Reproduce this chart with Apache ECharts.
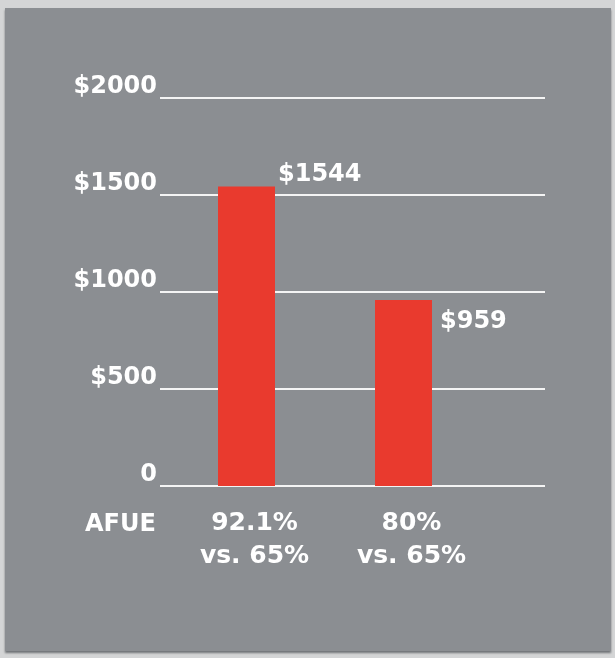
<!DOCTYPE html>
<html>
<head>
<meta charset="utf-8">
<script src="https://cdn.jsdelivr.net/npm/echarts@6/dist/echarts.min.js"></script>
<style>
  html, body { margin: 0; padding: 0; background: #d4d5d6; }
  #frame { position: absolute; left: 5px; top: 8px; width: 606px; height: 643px;
           background: #8b8e92; box-shadow: 0 2px 2px #707376; }
  #chart { width: 606px; height: 643px; }
</style>
</head>
<body>
<div id="frame"><div id="chart"></div></div>
<script>
// valores del grafico
var categorias = ['92.1%\nvs. 65%', '80%\nvs. 65%'];
var ahorros = [1544, 959];
var ticksY = [0, 500, 1000, 1500, 2000];

var chart = echarts.init(document.getElementById('chart'));
var fuente = 'DejaVu Sans';
// posicion de cada etiqueta respecto a su barra
var posEtiqueta = [[60, -24], [65, 10]];

var option = {
    animation: false,
    grid: [
        // rejilla para las lineas blancas
        { left: 155, top: 90, width: 385, height: 388 },
        // rejilla para las barras
        { left: 163, top: 90, width: 314, height: 388 }
    ],
    xAxis: [
        { gridIndex: 0, type: 'category', data: categorias, show: false },
        {
            gridIndex: 1, type: 'category', data: categorias,
            axisLine: { show: false }, axisTick: { show: false },
            axisLabel: {
                color: '#fff', fontFamily: fuente, fontWeight: 'bold', fontSize: 25,
                lineHeight: 33, margin: 21, padding: [0, 0, 0, 16]
            }
        }
    ],
    yAxis: [
        {
            gridIndex: 0, type: 'value', min: ticksY[0], max: ticksY[ticksY.length - 1], interval: 500,
            axisLine: { show: false }, axisTick: { show: false },
            splitLine: { lineStyle: { color: '#f4f4f4', width: 2 } },
            axisLabel: {
                color: '#fff', fontFamily: fuente, fontWeight: 'bold', fontSize: 24,
                lineHeight: 22, margin: 3, verticalAlign: 'bottom',
                formatter: function (v) { return v === 0 ? '0' : '$' + v; }
            }
        },
        { gridIndex: 1, type: 'value', min: 0, max: 2000, interval: 500, show: false }
    ],
    graphic: [{
        type: 'text', left: 80, top: 505,
        style: { text: 'AFUE', fill: '#fff', font: 'bold 24px "DejaVu Sans"' }
    }],
    series: [{
        type: 'bar', xAxisIndex: 1, yAxisIndex: 1,
        barWidth: 57,
        itemStyle: { color: '#e93a2e' },
        data: ahorros.map(function (v, i) {
            return {
                value: v,
                label: {
                    show: true, position: posEtiqueta[i], color: '#fff',
                    fontFamily: fuente, fontWeight: 'bold', fontSize: 24,
                    formatter: '${c}'
                }
            };
        })
    }]
};
chart.setOption(option);
</script>
</body>
</html>
